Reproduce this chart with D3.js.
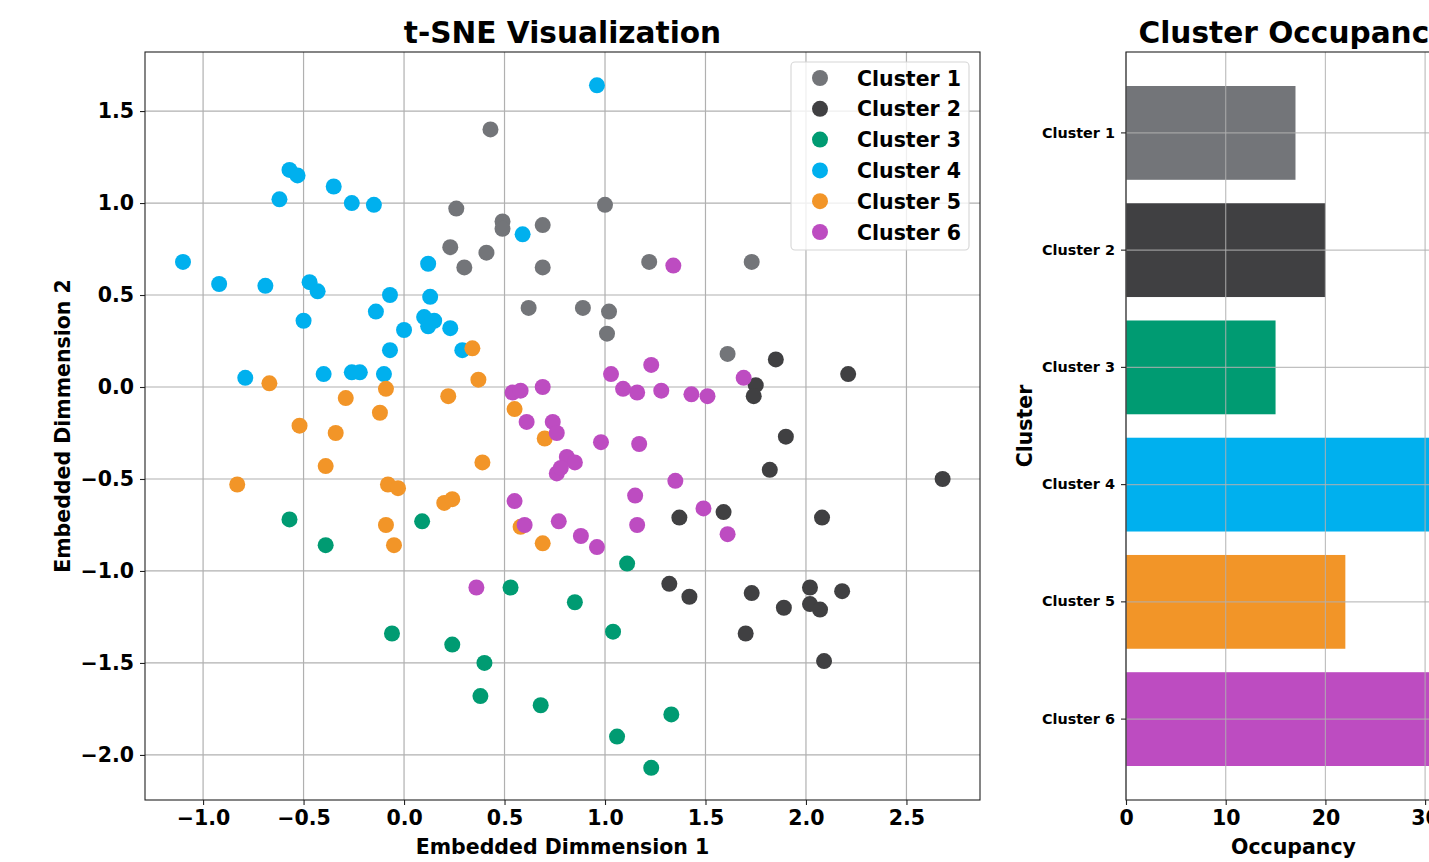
<!DOCTYPE html>
<html>
<head>
<meta charset="utf-8">
<script src="https://cdn.jsdelivr.net/npm/d3@7"></script>
<style>
body { margin: 0; background: #fff; }
svg { display: block; font-family: "DejaVu Sans", sans-serif; font-weight: bold; }
</style>
</head>
<body>
<svg id="fig" width="1429" height="862"></svg>
<script>
// data
var clusterNames = ["Cluster 1", "Cluster 2", "Cluster 3", "Cluster 4", "Cluster 5", "Cluster 6"];
var clusterColors = ["#737579", "#404042", "#009b72", "#00b0ee", "#f29528", "#bd4cc1"];

var cluster1 = [[0.43,1.40],[0.26,0.97],[0.49,0.90],[0.49,0.86],[0.69,0.88],[1.00,0.99],[0.23,0.76],[0.41,0.73],
	[0.30,0.65],[0.69,0.65],[1.22,0.68],[1.73,0.68],[0.62,0.43],[0.89,0.43],[1.02,0.41],[1.01,0.29],[1.61,0.18]];
var cluster2 = [[1.85,0.15],[2.21,0.07],[1.75,0.01],[1.74,-0.05],[1.90,-0.27],[1.82,-0.45],[2.68,-0.50],[1.37,-0.71],
	[1.59,-0.68],[2.08,-0.71],[1.32,-1.07],[1.42,-1.14],[1.73,-1.12],[2.02,-1.09],[2.18,-1.11],[1.89,-1.20],
	[2.02,-1.18],[2.07,-1.21],[1.70,-1.34],[2.09,-1.49]];
var cluster3 = [[-0.57,-0.72],[0.09,-0.73],[-0.39,-0.86],[0.53,-1.09],[-0.06,-1.34],[0.24,-1.40],[0.40,-1.50],
	[0.38,-1.68],[0.68,-1.73],[1.11,-0.96],[0.85,-1.17],[1.04,-1.33],[1.33,-1.78],[1.06,-1.90],[1.23,-2.07]];
var cluster4 = [[-0.57,1.18],[-0.53,1.15],[-0.35,1.09],[-0.62,1.02],[-0.26,1.00],[-0.15,0.99],[0.59,0.83],
	[-1.10,0.68],[0.12,0.67],[-0.92,0.56],[-0.69,0.55],[-0.47,0.57],[-0.43,0.52],[-0.07,0.50],[0.13,0.49],
	[0.96,1.64],[-0.50,0.36],[-0.14,0.41],[0.10,0.38],[0.15,0.36],[0.12,0.33],[0.00,0.31],[0.23,0.32],
	[-0.07,0.20],[0.29,0.20],[-0.79,0.05],[-0.40,0.07],[-0.26,0.08],[-0.22,0.08],[-0.10,0.07]];
var cluster5 = [[0.34,0.21],[0.37,0.04],[-0.67,0.02],[-0.09,-0.01],[-0.29,-0.06],[0.22,-0.05],[0.55,-0.12],
	[-0.12,-0.14],[-0.52,-0.21],[-0.34,-0.25],[0.70,-0.28],[-0.39,-0.43],[0.39,-0.41],[-0.83,-0.53],
	[-0.08,-0.53],[-0.03,-0.55],[0.20,-0.63],[0.24,-0.61],[-0.09,-0.75],[0.58,-0.76],[-0.05,-0.86],[0.69,-0.85]];
var cluster6 = [[1.34,0.66],[1.23,0.12],[1.03,0.07],[1.69,0.05],[1.09,-0.01],[1.16,-0.03],[1.28,-0.02],
	[1.43,-0.04],[1.51,-0.05],[0.98,-0.30],[1.17,-0.31],[0.81,-0.38],[0.85,-0.41],[1.35,-0.51],[1.15,-0.59],
	[1.49,-0.66],[0.88,-0.81],[1.16,-0.75],[1.61,-0.80],[0.96,-0.87],[0.54,-0.03],[0.58,-0.02],[0.69,0.00],
	[0.61,-0.19],[0.74,-0.19],[0.76,-0.25],[0.76,-0.47],[0.78,-0.44],[0.55,-0.62],[0.60,-0.75],[0.77,-0.73],
	[0.36,-1.09]];
var clusters = [cluster1, cluster2, cluster3, cluster4, cluster5, cluster6];

var occupancy = [17, 20, 15, 31, 22, 32];

var xTicks = [-1.0, -0.5, 0.0, 0.5, 1.0, 1.5, 2.0, 2.5];
var yTicks = [-2.0, -1.5, -1.0, -0.5, 0.0, 0.5, 1.0, 1.5];
var occTicks = [0, 10, 20, 30];

var svg = d3.select("#fig");
var fmt = d3.format(".1f");
var labelSize = 20.5;

// ---------- scatter panel ----------
var sx = d3.scaleLinear().domain([-1.289, 2.866]).range([145, 980]);
var sy = d3.scaleLinear().domain([-2.245, 1.821]).range([800, 52]);

var scatter = svg.append("g");

scatter.append("g").selectAll("line.gx").data(xTicks).enter().append("line")
	.attr("x1", d => sx(d)).attr("x2", d => sx(d)).attr("y1", 52).attr("y2", 800)
	.attr("stroke", "#b0b0b0").attr("stroke-width", 1.2);
scatter.append("g").selectAll("line.gy").data(yTicks).enter().append("line")
	.attr("y1", d => sy(d)).attr("y2", d => sy(d)).attr("x1", 145).attr("x2", 980)
	.attr("stroke", "#b0b0b0").attr("stroke-width", 1.2);

clusters.forEach(function(pts, i) {
	scatter.append("g").selectAll("circle").data(pts).enter().append("circle")
		.attr("cx", d => sx(d[0]))
		.attr("cy", d => sy(d[1]))
		.attr("r", 8)
		.attr("fill", clusterColors[i]);
});

scatter.append("rect").attr("x", 145).attr("y", 52).attr("width", 835).attr("height", 748)
	.attr("fill", "none").attr("stroke", "#222").attr("stroke-width", 1.1);

var xAxis = scatter.append("g").attr("transform", "translate(0,800)")
	.call(d3.axisBottom(sx).tickValues(xTicks).tickSize(5).tickPadding(5).tickFormat(fmt));
var yAxis = scatter.append("g").attr("transform", "translate(145,0)")
	.call(d3.axisLeft(sy).tickValues(yTicks).tickSize(5).tickPadding(6).tickFormat(fmt));
[xAxis, yAxis].forEach(function(a) {
	a.select(".domain").remove();
	a.selectAll("text").attr("font-size", labelSize).attr("font-family", "DejaVu Sans").attr("font-weight", "bold").attr("fill", "#000");
	a.selectAll("line").attr("stroke", "#222").attr("stroke-width", 1.1);
});

scatter.append("text").attr("x", 562.5).attr("y", 43).attr("text-anchor", "middle")
	.attr("font-size", 29.6).text("t-SNE Visualization");
scatter.append("text").attr("x", 562.5).attr("y", 854).attr("text-anchor", "middle")
	.attr("font-size", labelSize).text("Embedded Dimmension 1");
scatter.append("text").attr("transform", "translate(70,426) rotate(-90)").attr("text-anchor", "middle")
	.attr("font-size", labelSize).text("Embedded Dimmension 2");

// legend
var legend = scatter.append("g");
legend.append("rect").attr("x", 791).attr("y", 62).attr("width", 178).attr("height", 188).attr("rx", 4)
	.attr("fill", "#fff").attr("fill-opacity", 0.8).attr("stroke", "#d6d6d6").attr("stroke-width", 1.1);
var items = legend.selectAll("g.item").data(clusterNames).enter().append("g")
	.attr("transform", (d, i) => "translate(0," + (78 + i * 30.8) + ")");
items.append("circle").attr("cx", 820).attr("cy", 0).attr("r", 8).attr("fill", (d, i) => clusterColors[i]);
items.append("text").attr("x", 857).attr("y", 7.5).attr("font-size", labelSize).text(d => d);

// ---------- occupancy panel ----------
var bx = d3.scaleLinear().domain([0, 33.6]).range([1126, 1461]);
var by = d3.scaleBand().domain(clusterNames).range([52, 800]).paddingInner(0.2).paddingOuter(0.29);

var bars = svg.append("g");
bars.selectAll("rect.bar").data(occupancy).enter().append("rect")
	.attr("x", bx(0))
	.attr("y", (d, i) => by(clusterNames[i]))
	.attr("width", d => bx(d) - bx(0))
	.attr("height", by.bandwidth())
	.attr("fill", (d, i) => clusterColors[i]);

bars.append("g").selectAll("line").data(occTicks).enter().append("line")
	.attr("x1", d => bx(d)).attr("x2", d => bx(d)).attr("y1", 52).attr("y2", 800)
	.attr("stroke", "#b0b0b0").attr("stroke-width", 1.2).attr("stroke-opacity", 0.8);
bars.append("g").selectAll("line").data(clusterNames).enter().append("line")
	.attr("y1", d => by(d) + by.bandwidth() / 2).attr("y2", d => by(d) + by.bandwidth() / 2)
	.attr("x1", 1126).attr("x2", 1461)
	.attr("stroke", "#b0b0b0").attr("stroke-width", 1.2).attr("stroke-opacity", 0.8);

bars.append("rect").attr("x", 1126).attr("y", 52).attr("width", 335).attr("height", 748)
	.attr("fill", "none").attr("stroke", "#222").attr("stroke-width", 1.1);

var bxAxis = bars.append("g").attr("transform", "translate(0,800)")
	.call(d3.axisBottom(bx).tickValues(occTicks).tickSize(5).tickPadding(5));
var byAxis = bars.append("g").attr("transform", "translate(1126,0)")
	.call(d3.axisLeft(by).tickSize(5).tickPadding(6));
[bxAxis, byAxis].forEach(function(a) {
	a.select(".domain").remove();
	a.selectAll("text").attr("font-family", "DejaVu Sans").attr("font-weight", "bold").attr("fill", "#000");
	a.selectAll("line").attr("stroke", "#222").attr("stroke-width", 1.1);
});
bxAxis.selectAll("text").attr("font-size", labelSize);
byAxis.selectAll("text").attr("font-size", 14.4);

bars.append("text").attr("x", 1293.5).attr("y", 43).attr("text-anchor", "middle")
	.attr("font-size", 29.6).text("Cluster Occupancy");
bars.append("text").attr("x", 1293.5).attr("y", 854).attr("text-anchor", "middle")
	.attr("font-size", labelSize).text("Occupancy");
bars.append("text").attr("transform", "translate(1032,426) rotate(-90)").attr("text-anchor", "middle")
	.attr("font-size", labelSize).text("Cluster");
</script>
</body>
</html>
